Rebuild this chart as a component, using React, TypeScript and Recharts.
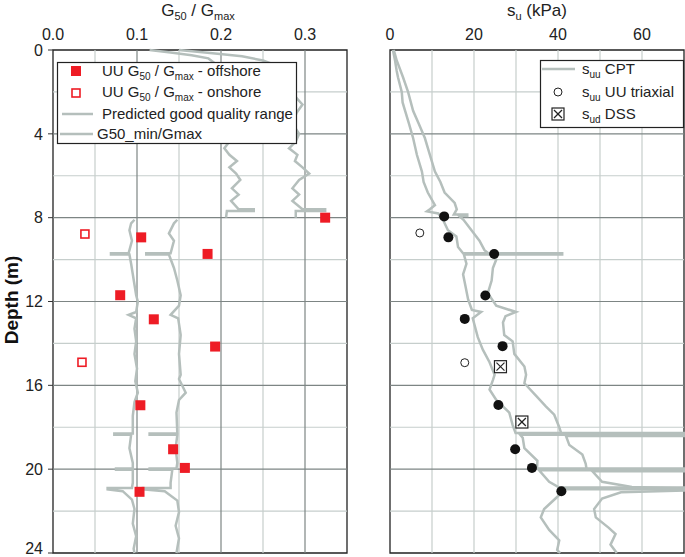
import React from "react";
import { ScatterChart, Scatter, XAxis, YAxis, ReferenceLine, ReferenceArea } from "recharts";

// depth (m) ticks and grid
const depthTicks = [0, 4, 8, 12, 16, 20, 24];
const depthGridMinor = [2, 6, 10, 14, 18, 22];
const depthGridMajor = [4, 8, 12, 16, 20];

// G50/Gmax axis
const ratioTicks = [0, 0.1, 0.2, 0.3];
const ratioGridMinor = [0.05, 0.15, 0.25];
const ratioGridMajor = [0.1, 0.2, 0.3];

// su axis
const suTicks = [0, 20, 40, 60];
const suGrid = [10, 20, 30, 40, 50, 60];

// [depth, G50/Gmax]
const upperInner = [
  [0, 0.115], [0.12, 0.14], [0.25, 0.165], [0.4, 0.185], [0.7, 0.195], [1.2, 0.2], [1.8, 0.205],
  [2.5, 0.2], [3.2, 0.21], [3.9, 0.205], [4.37, 0.21], [4.69, 0.204], [5.0, 0.21], [5.3, 0.219],
  [5.6, 0.21], [5.9, 0.218], [6.2, 0.223], [6.6, 0.213], [6.9, 0.221], [7.2, 0.212], [7.6, 0.221],
  [7.6, 0.239], [7.68, 0.239], [7.68, 0.207], [8.0, 0.206],
];
const upperOuter = [
  [0, 0.15], [0.15, 0.19], [0.3, 0.225], [0.5, 0.25], [0.8, 0.27], [1.5, 0.28], [2.3, 0.29],
  [2.6, 0.297], [3.0, 0.29], [3.5, 0.285], [4.0, 0.293], [4.37, 0.289], [4.69, 0.281], [5.0, 0.291],
  [5.3, 0.288], [5.6, 0.297], [5.9, 0.305], [6.2, 0.293], [6.6, 0.285], [6.9, 0.293], [7.2, 0.285],
  [7.6, 0.297], [7.6, 0.324], [7.68, 0.324], [7.68, 0.289], [8.0, 0.289],
];
const lowerInner = [
  [8.1, 0.097], [8.27, 0.093], [8.6, 0.091], [9.1, 0.094], [9.7, 0.09], [9.7, 0.069], [9.76, 0.069],
  [9.76, 0.091], [10.2, 0.093], [10.7, 0.095], [11.2, 0.097], [11.7, 0.099], [12.0, 0.101],
  [12.5, 0.099], [12.64, 0.09], [12.8, 0.099], [13.3, 0.097], [13.9, 0.099], [14.5, 0.097],
  [15.2, 0.1], [15.8, 0.098], [16.35, 0.101], [16.8, 0.097], [17.45, 0.095], [18.3, 0.095],
  [18.3, 0.073], [18.36, 0.073], [18.36, 0.093], [19.0, 0.091], [19.7, 0.095], [19.97, 0.095],
  [19.97, 0.075], [20.03, 0.075], [20.03, 0.095], [20.65, 0.095], [20.9, 0.094], [20.9, 0.065],
  [20.96, 0.065], [21.05, 0.083], [21.45, 0.094], [21.9, 0.097], [22.6, 0.095], [23.2, 0.099],
  [23.8, 0.096], [24, 0.097],
];
const lowerOuter = [
  [8.1, 0.148], [8.27, 0.144], [8.75, 0.138], [9.1, 0.144], [9.7, 0.14], [9.7, 0.111], [9.76, 0.111],
  [9.76, 0.138], [10.4, 0.144], [11.0, 0.148], [11.7, 0.152], [12.2, 0.15], [12.64, 0.14],
  [12.8, 0.149], [13.6, 0.152], [14.5, 0.15], [15.5, 0.152], [15.7, 0.15], [16.35, 0.158],
  [16.7, 0.15], [17.3, 0.147], [18.3, 0.148], [18.3, 0.115], [18.36, 0.115], [18.36, 0.148],
  [19.0, 0.146], [19.7, 0.148], [19.97, 0.147], [19.97, 0.115], [20.03, 0.115], [20.03, 0.142],
  [20.65, 0.14], [20.9, 0.14], [20.9, 0.107], [20.96, 0.107], [21.05, 0.133], [21.5, 0.148],
  [22.05, 0.15], [22.7, 0.146], [23.3, 0.15], [24, 0.147],
];
const offshoreUU = [
  [8.0, 0.324], [8.94, 0.105], [9.73, 0.184], [11.7, 0.08], [12.85, 0.12],
  [14.15, 0.193], [16.95, 0.104], [19.05, 0.143], [19.94, 0.157], [21.08, 0.103],
];
const onshoreUU = [[8.78, 0.038], [14.9, 0.0345]];

// [depth, su kPa]
const cptLower = [
  [0, 0.7], [0.5, 1.2], [1.0, 1.6], [1.3, 1.9], [2.0, 2.8], [2.5, 3.0], [2.9, 3.6], [3.5, 4.5],
  [4.2, 5.5], [5.0, 6.4], [5.8, 7.6], [6.3, 8.0], [6.8, 9.0], [7.4, 10.7], [7.6, 9.5], [7.7, 8.8],
  [7.8, 11.5], [8.1, 12.6], [8.6, 13.8], [8.9, 15.8], [9.4, 16.2], [9.7, 17.4], [9.7, 41],
  [9.76, 41], [9.76, 17.6], [10.2, 18.2], [10.7, 17.4], [11.3, 18.0], [11.9, 18.6], [12.4, 19.5],
  [12.5, 21.7], [12.8, 19.7], [13.7, 20.9], [14.3, 22.1], [14.9, 23.7], [15.5, 24.9], [15.75, 24.5],
  [16.2, 23.7], [16.7, 25.3], [17.3, 28.4], [17.9, 29.2], [18.28, 29.9], [18.28, 70], [18.36, 70],
  [18.36, 31], [18.5, 31.6], [19.0, 32], [19.6, 35.1], [19.97, 35], [19.97, 70], [20.05, 70],
  [20.05, 35.5], [20.6, 37.9], [20.88, 40.3], [20.88, 70], [20.96, 70], [20.96, 41], [21.1, 41],
  [21.4, 39.4], [21.9, 36.7], [22.3, 35.9], [22.9, 37.9], [23.4, 40.3], [23.85, 39.8], [24, 40.5],
];
const cptUpper = [
  [0, 0.9], [0.5, 1.6], [1.3, 3.1], [2.0, 4.3], [2.9, 5.5], [3.5, 6.8], [4.2, 8.3], [5.0, 9.5],
  [5.8, 10.7], [6.3, 12], [6.8, 13], [7.3, 15.4], [7.6, 15.9], [7.85, 15.2], [7.85, 18.4],
  [7.92, 18.4], [7.92, 16.5], [8.1, 17.5], [8.6, 19.4], [9.1, 21.3], [9.55, 22.5], [10.0, 25.3],
  [10.4, 24.5], [11.0, 24.2], [11.6, 23.3], [12.2, 25.3], [12.5, 30], [12.7, 27.5], [13.0, 26.9],
  [13.6, 27.2], [13.9, 29.2], [14.5, 29.6], [15.1, 32], [15.5, 32.4], [15.9, 32], [16.5, 34.8],
  [17.0, 37.1], [17.4, 39.1], [18.0, 40.3], [18.32, 40.8], [18.32, 70], [18.42, 70], [18.42, 41.9],
  [18.85, 42.7], [19.3, 45.8], [19.75, 46.6], [20.0, 46.8], [20.0, 70], [20.1, 70], [20.1, 48.2],
  [20.6, 50.5], [20.85, 57.6], [20.92, 70], [21.02, 70], [21.1, 55], [21.4, 50.5], [21.9, 48.6],
  [22.3, 49], [22.8, 52.1], [23.1, 53.7], [23.6, 52.5], [24, 54],
];
const suOffshore = [
  [7.94, 12.9], [8.94, 13.9], [9.73, 24.8], [11.71, 22.7], [12.83, 17.8],
  [14.13, 26.8], [16.94, 25.8], [19.05, 29.8], [19.94, 33.8], [21.05, 40.8],
];
const suTriaxial = [[8.73, 7.1], [14.92, 17.8]];
const suDSS = [[15.11, 26.3], [17.75, 31.4]];

const pts = (arr: number[][]) => arr.map(([d, v]) => ({ x: v, y: d }));

const FONT = "'Liberation Sans', Arial, sans-serif";
const LINE_GRAY = "#b5bfbc";
const GRID_MINOR = "#c6cecc";
const GRID_MAJOR = "#7d8584";
const RED = "#ee1c25";

const NoDot = () => <g />;
const RedSquare = (p: any) => <rect x={p.cx - 5} y={p.cy - 5} width={10} height={10} fill={RED} />;
const RedHollow = (p: any) => (
  <rect x={p.cx - 4} y={p.cy - 4} width={8} height={8} fill="#fff" stroke={RED} strokeWidth={1.6} />
);
const BlackDot = (p: any) => <circle cx={p.cx} cy={p.cy} r={5} fill="#111" />;
const HollowCircle = (p: any) => <circle cx={p.cx} cy={p.cy} r={4} fill="#fff" stroke="#222" strokeWidth={1} />;
const DssBox = (p: any) => (
  <g stroke="#222" strokeWidth={1.2} fill="#fff">
    <rect x={p.cx - 6} y={p.cy - 6} width={12} height={12} />
    <line x1={p.cx - 4} y1={p.cy - 4} x2={p.cx + 4} y2={p.cy + 4} />
    <line x1={p.cx + 4} y1={p.cy - 4} x2={p.cx - 4} y2={p.cy + 4} />
  </g>
);

const tickStyle = { fontSize: 16, fill: "#222", fontFamily: FONT };
const lineStyle = { stroke: LINE_GRAY, strokeWidth: 2.5 };

function LeftPanel() {
  return (
    <ScatterChart width={350} height={557} margin={{ top: 28, right: 3, bottom: 4, left: 0 }}>
      <XAxis
        type="number"
        dataKey="x"
        orientation="top"
        domain={[0, 0.35]}
        ticks={ratioTicks}
        tickFormatter={(v: number) => v.toFixed(1)}
        axisLine={false}
        tickLine={false}
        tickSize={0}
        tickMargin={10}
        height={22}
        tick={tickStyle}
      />
      <YAxis
        type="number"
        dataKey="y"
        domain={[0, 24]}
        reversed
        ticks={depthTicks}
        width={53}
        axisLine={false}
        tickLine={{ stroke: "#333" }}
        tickSize={5}
        tickMargin={5}
        tick={tickStyle}
      />
      {ratioGridMinor.map((v) => (
        <ReferenceLine key={"xm" + v} x={v} stroke={GRID_MINOR} strokeWidth={1.2} />
      ))}
      {depthGridMinor.map((v) => (
        <ReferenceLine key={"ym" + v} y={v} stroke={GRID_MINOR} strokeWidth={1.2} />
      ))}
      {ratioGridMajor.map((v) => (
        <ReferenceLine key={"xM" + v} x={v} stroke={GRID_MAJOR} strokeWidth={1.2} />
      ))}
      {depthGridMajor.map((v) => (
        <ReferenceLine key={"yM" + v} y={v} stroke={GRID_MAJOR} strokeWidth={1.2} />
      ))}
      <Scatter data={pts(upperInner)} line={lineStyle} shape={NoDot} isAnimationActive={false} />
      <Scatter data={pts(upperOuter)} line={lineStyle} shape={NoDot} isAnimationActive={false} />
      <Scatter data={pts(lowerInner)} line={lineStyle} shape={NoDot} isAnimationActive={false} />
      <Scatter data={pts(lowerOuter)} line={lineStyle} shape={NoDot} isAnimationActive={false} />
      <Scatter data={pts(offshoreUU)} shape={RedSquare} isAnimationActive={false} />
      <Scatter data={pts(onshoreUU)} shape={RedHollow} isAnimationActive={false} />
      <ReferenceArea x1={0} x2={0.35} y1={0} y2={24} fill="none" stroke="#222" strokeWidth={1.3} />
    </ScatterChart>
  );
}

function RightPanel() {
  return (
    <ScatterChart width={345} height={557} margin={{ top: 28, right: 1, bottom: 4, left: 50 }}>
      <XAxis
        type="number"
        dataKey="x"
        orientation="top"
        domain={[0, 70]}
        ticks={suTicks}
        axisLine={false}
        tickLine={false}
        tickSize={0}
        tickMargin={10}
        height={22}
        tick={tickStyle}
      />
      <YAxis type="number" dataKey="y" domain={[0, 24]} reversed hide />
      {suGrid.map((v) => (
        <ReferenceLine key={"xs" + v} x={v} stroke={GRID_MINOR} strokeWidth={1.2} />
      ))}
      {depthGridMinor.map((v) => (
        <ReferenceLine key={"ym" + v} y={v} stroke={GRID_MINOR} strokeWidth={1.2} />
      ))}
      {depthGridMajor.map((v) => (
        <ReferenceLine key={"yM" + v} y={v} stroke={GRID_MAJOR} strokeWidth={1.2} />
      ))}
      <Scatter data={pts(cptLower)} line={lineStyle} shape={NoDot} isAnimationActive={false} />
      <Scatter data={pts(cptUpper)} line={lineStyle} shape={NoDot} isAnimationActive={false} />
      <Scatter data={pts(suOffshore)} shape={BlackDot} isAnimationActive={false} />
      <Scatter data={pts(suTriaxial)} shape={HollowCircle} isAnimationActive={false} />
      <Scatter data={pts(suDSS)} shape={DssBox} isAnimationActive={false} />
      <ReferenceArea x1={0} x2={70} y1={0} y2={24} fill="none" stroke="#222" strokeWidth={1.3} />
    </ScatterChart>
  );
}

function Overlay() {
  return (
    <svg width={685} height={557} style={{ position: "absolute", left: 0, top: 0, pointerEvents: "none" }} fontFamily={FONT}>
      <text x={198} y={16} textAnchor="middle" fontSize={17} fill="#222">
        G<tspan fontSize={11} dy={4}>50</tspan><tspan dy={-4}> / G</tspan><tspan fontSize={11} dy={4}>max</tspan>
      </text>
      <text x={537} y={16} textAnchor="middle" fontSize={17} fill="#222">
        s<tspan fontSize={11} dy={4}>u</tspan><tspan dy={-4}> (kPa)</tspan>
      </text>
      <text transform="translate(18,300) rotate(-90)" textAnchor="middle" fontSize={19} fontWeight="bold" fill="#111">
        Depth (m)
      </text>

      {/* left legend */}
      <rect x={57.5} y={62.5} width={239} height={81} fill="#fff" stroke="#222" strokeWidth={1.2} />
      <rect x={71} y={66} width={10} height={10} fill={RED} />
      <text x={102} y={76} fontSize={15} fill="#222">
        UU G<tspan fontSize={10} dy={4}>50</tspan><tspan dy={-4}> / G</tspan>
        <tspan fontSize={10} dy={4}>max</tspan><tspan dy={-4}> - offshore</tspan>
      </text>
      <rect x={72} y={89} width={8} height={8} fill="#fff" stroke={RED} strokeWidth={1.6} />
      <text x={102} y={97} fontSize={15} fill="#222">
        UU G<tspan fontSize={10} dy={4}>50</tspan><tspan dy={-4}> / G</tspan>
        <tspan fontSize={10} dy={4}>max</tspan><tspan dy={-4}> - onshore</tspan>
      </text>
      <line x1={62} x2={93} y1={114} y2={114} stroke={LINE_GRAY} strokeWidth={2.5} />
      <text x={102} y={119} fontSize={15} fill="#222">Predicted good quality range</text>
      <line x1={60} x2={93} y1={134} y2={134} stroke={LINE_GRAY} strokeWidth={2.5} />
      <text x={97} y={139} fontSize={15} fill="#222">G50_min/Gmax</text>

      {/* right legend */}
      <rect x={540.5} y={60.5} width={143} height={67} fill="#fff" stroke="#222" strokeWidth={1.2} />
      <line x1={542} x2={575} y1={69} y2={69} stroke={LINE_GRAY} strokeWidth={2.5} />
      <text x={582} y={74} fontSize={15} fill="#222">
        s<tspan fontSize={10} dy={4}>uu</tspan><tspan dy={-4}> CPT</tspan>
      </text>
      <circle cx={558} cy={92} r={4} fill="#fff" stroke="#222" strokeWidth={1} />
      <text x={582} y={97} fontSize={15} fill="#222">
        s<tspan fontSize={10} dy={4}>uu</tspan><tspan dy={-4}> UU triaxial</tspan>
      </text>
      <g stroke="#222" strokeWidth={1.2} fill="#fff">
        <rect x={552} y={108} width={12} height={12} />
        <line x1={554} y1={110} x2={562} y2={118} />
        <line x1={562} y1={110} x2={554} y2={118} />
      </g>
      <text x={582} y={119} fontSize={15} fill="#222">
        s<tspan fontSize={10} dy={4}>ud</tspan><tspan dy={-4}> DSS</tspan>
      </text>
    </svg>
  );
}

export default function App() {
  return (
    <div style={{ position: "absolute", left: 0, top: 0, width: 685, height: 557, background: "#fff", fontFamily: FONT }}>
      <div style={{ position: "absolute", left: 0, top: 0 }}>
        <LeftPanel />
      </div>
      <div style={{ position: "absolute", left: 340, top: 0 }}>
        <RightPanel />
      </div>
      <Overlay />
    </div>
  );
}
